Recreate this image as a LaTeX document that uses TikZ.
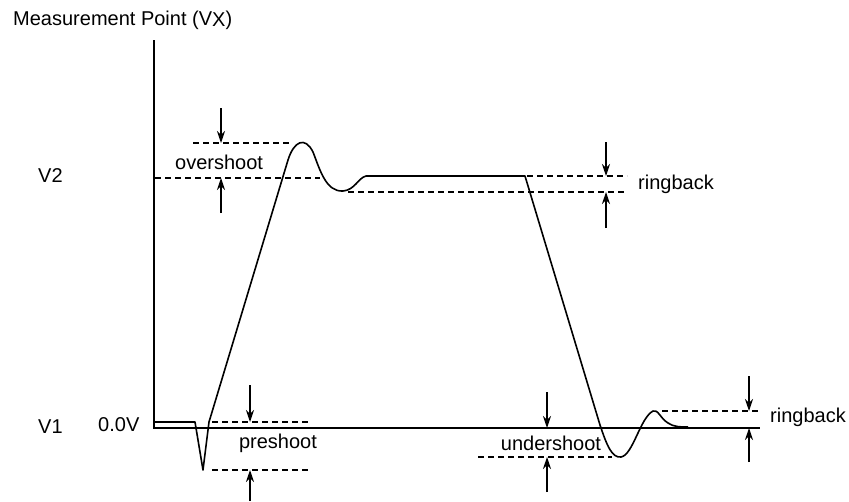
\documentclass[tikz,border=0pt]{standalone}
\usepackage{fontspec}
\setmainfont{Liberation Sans}
\usetikzlibrary{arrows.meta}
\begin{document}
\begin{tikzpicture}[x=1pt,y=-1pt,
  lbl/.style={inner sep=0pt,font=\fontsize{20}{23}\selectfont},
  axisline/.style={line width=1.8pt},
  sig/.style={line width=1.6pt,line join=round},
  guide/.style={line width=1.1pt,dash pattern=on 6pt off 4pt},
  marker/.style={line width=1.2pt,-{Stealth[length=12pt,width=8pt]}}]
\useasboundingbox (0,0) rectangle (849,501);
% labels
\node[lbl,anchor=west] (title) at (13,20) {Measurement Point (V\raisebox{-1.5pt}{X})};
\node[lbl,anchor=west] (v2) at (38,176) {V2};
\node[lbl,anchor=west] (v1) at (38,427) {V1};
\node[lbl,anchor=west] (zero) at (98,425) {0.0V};
\node[lbl,anchor=west] (over) at (175,162) {overshoot};
\node[lbl] (pre) at (278,443) {preshoot};
\node[lbl] (under) at (551,443) {undershoot};
\node[lbl,anchor=west] (ring1) at (638,184) {ringback};
\node[lbl,anchor=west] (ring2) at (770,417) {ringback};
% axes
\coordinate (top) at (154,40);
\coordinate (origin) at (154,428);
\coordinate (xend) at (760,428);
\draw[axisline] (top) -- (origin) -- (xend);
% signal
\draw[sig] (154,422) -- (195,422) -- (203,470) -- (209,422) -- (288,160)
  .. controls (294,141) and (305,136) .. (313,152)
  .. controls (320,170) and (326,192) .. (343,191)
  .. controls (355,190) and (358,178) .. (366,176) -- (525,176)
  -- (600,425)
  .. controls (607,446) and (612,458) .. (621,457)
  .. controls (633,455) and (640,418) .. (653,411)
  .. controls (658,409) and (660,418) .. (668,423)
  .. controls (674,427) and (680,427) .. (688,427);
% dashed guides
\coordinate (ot1) at (193,143); \coordinate (ot2) at (292,143);
\coordinate (ob1) at (155,178); \coordinate (ob2) at (320,178);
\draw[guide] (ot1) -- (ot2);
\draw[guide] (ob1) -- (ob2);
\coordinate (rt1) at (527,176); \coordinate (rt2) at (627,176);
\coordinate (rb1) at (348,192); \coordinate (rb2) at (627,192);
\draw[guide] (rt1) -- (rt2);
\draw[guide] (rb1) -- (rb2);
\coordinate (pt1) at (212,422); \coordinate (pt2) at (310,422);
\coordinate (pb1) at (212,470); \coordinate (pb2) at (310,470);
\draw[guide] (pt1) -- (pt2);
\draw[guide] (pb1) -- (pb2);
\coordinate (ub1) at (478,457); \coordinate (ub2) at (612,457);
\draw[guide] (ub1) -- (ub2);
\coordinate (r2t1) at (662,411); \coordinate (r2t2) at (758,411);
\draw[guide] (r2t1) -- (r2t2);
% arrows
\coordinate (oa1) at (221,108); \coordinate (oa2) at (221,143);
\coordinate (oa3) at (221,213); \coordinate (oa4) at (221,178);
\draw[marker] (oa1) -- (oa2);
\draw[marker] (oa3) -- (oa4);
\coordinate (ra1) at (606,142); \coordinate (ra2) at (606,176);
\coordinate (ra3) at (606,228); \coordinate (ra4) at (606,192);
\draw[marker] (ra1) -- (ra2);
\draw[marker] (ra3) -- (ra4);
\coordinate (pa1) at (250,385); \coordinate (pa2) at (250,422);
\coordinate (pa3) at (250,501); \coordinate (pa4) at (250,470);
\draw[marker] (pa1) -- (pa2);
\draw[marker] (pa3) -- (pa4);
\coordinate (ua1) at (547,392); \coordinate (ua2) at (547,428);
\coordinate (ua3) at (547,492); \coordinate (ua4) at (547,457);
\draw[marker] (ua1) -- (ua2);
\draw[marker] (ua3) -- (ua4);
\coordinate (ba1) at (749,376); \coordinate (ba2) at (749,411);
\coordinate (ba3) at (749,462); \coordinate (ba4) at (749,428);
\draw[marker] (ba1) -- (ba2);
\draw[marker] (ba3) -- (ba4);
\end{tikzpicture}
\end{document}
